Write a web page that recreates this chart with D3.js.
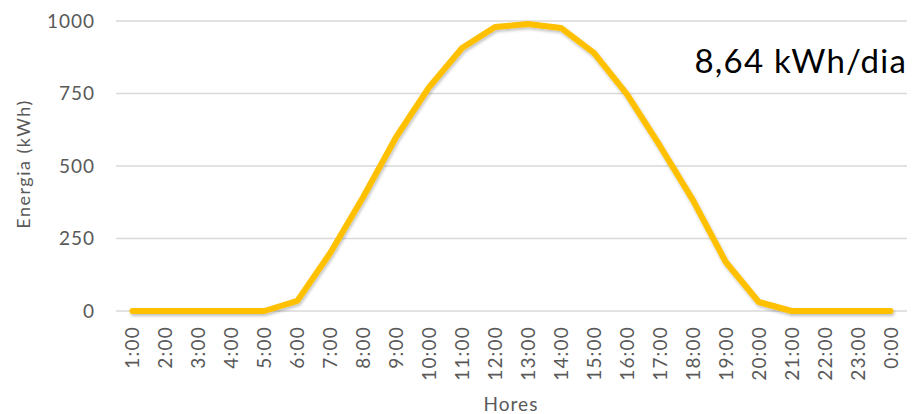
<!DOCTYPE html>
<html>
<head>
<meta charset="utf-8">
<script src="https://cdn.jsdelivr.net/npm/d3@7"></script>
<style>
  body { margin: 0; background: #fff; }
  svg { display: block; font-family: 'Lato', 'Noto Sans', sans-serif; }
</style>
</head>
<body>
<svg id="chart" width="913" height="414"></svg>
<script>
const hores = ['1:00','2:00','3:00','4:00','5:00','6:00','7:00','8:00','9:00','10:00','11:00','12:00',
  '13:00','14:00','15:00','16:00','17:00','18:00','19:00','20:00','21:00','22:00','23:00','0:00']
const energia = [0, 0, 0, 0, 0, 35, 200, 393, 600, 772, 907, 979,
  990, 976, 890, 748, 570, 383, 169, 31, 0, 0, 0, 0]
const yTicks = [0, 250, 500, 750, 1000]
const totalLabel = '8,64 kWh/dia'

const margin = { left: 116, right: 6, top: 21, bottom: 103 }
const width = 913, height = 414

const svg = d3.select('#chart')

const x = d3.scaleBand()
    .domain(hores)
    .range([margin.left, width - margin.right])

const y = d3.scaleLinear()
    .domain([0, 1000])
    .range([height - margin.bottom, margin.top])

// gridlines
svg.append('g')
    .selectAll('line')
    .data(yTicks)
    .join('line')
    .attr('x1', margin.left)
    .attr('x2', width - margin.right)
    .attr('y1', d => y(d))
    .attr('y2', d => y(d))
    .attr('stroke', '#d9d9d9')
    .attr('stroke-width', 1.5)

// y axis labels
svg.append('g')
    .selectAll('text')
    .data(yTicks)
    .join('text')
    .attr('x', 95)
    .attr('y', d => y(d))
    .attr('dy', '0.36em')
    .attr('text-anchor', 'end')
    .attr('fill', '#595959')
    .attr('font-size', 19)
    .attr('letter-spacing', 1)
    .text(d => d)

// x axis labels (rotated)
svg.append('g')
    .selectAll('text')
    .data(hores)
    .join('text')
    .attr('transform', d => `translate(${x(d) + x.bandwidth() / 2 + 7},${y(0) + 15}) rotate(-90)`)
    .attr('text-anchor', 'end')
    .attr('fill', '#595959')
    .attr('font-size', 19)
    .attr('letter-spacing', 1.2)
    .text(d => d)

// axis titles
svg.append('text')
    .attr('transform', `translate(30,${(y(0) + y(1000)) / 2 - 2}) rotate(-90)`)
    .attr('text-anchor', 'middle')
    .attr('fill', '#595959')
    .attr('font-size', 18)
    .attr('letter-spacing', 1.5)
    .text('Energia (kWh)')

svg.append('text')
    .attr('x', 511)
    .attr('y', 411)
    .attr('text-anchor', 'middle')
    .attr('fill', '#595959')
    .attr('font-size', 19)
    .attr('letter-spacing', 1)
    .text('Hores')

// shadow for the line
const defs = svg.append('defs')
const f = defs.append('filter').attr('id', 'shadow').attr('x', '-5%').attr('y', '-5%').attr('width', '110%').attr('height', '115%')
f.append('feDropShadow').attr('dx', 1).attr('dy', 2).attr('stdDeviation', 1.5).attr('flood-color', '#000').attr('flood-opacity', 0.25)

const line = d3.line()
    .x((d, i) => x(hores[i]) + x.bandwidth() / 2)
    .y(d => y(d))

svg.append('path')
    .datum(energia)
    .attr('fill', 'none')
    .attr('stroke', '#ffc000')
    .attr('stroke-width', 6)
    .attr('stroke-linejoin', 'round')
    .attr('stroke-linecap', 'round')
    .attr('filter', 'url(#shadow)')
    .attr('d', line)

svg.append('text')
    .attr('x', 907)
    .attr('y', 73)
    .attr('text-anchor', 'end')
    .attr('fill', '#000')
    .attr('font-size', 33)
    .attr('letter-spacing', 1.2)
    .text(totalLabel)
</script>
</body>
</html>
